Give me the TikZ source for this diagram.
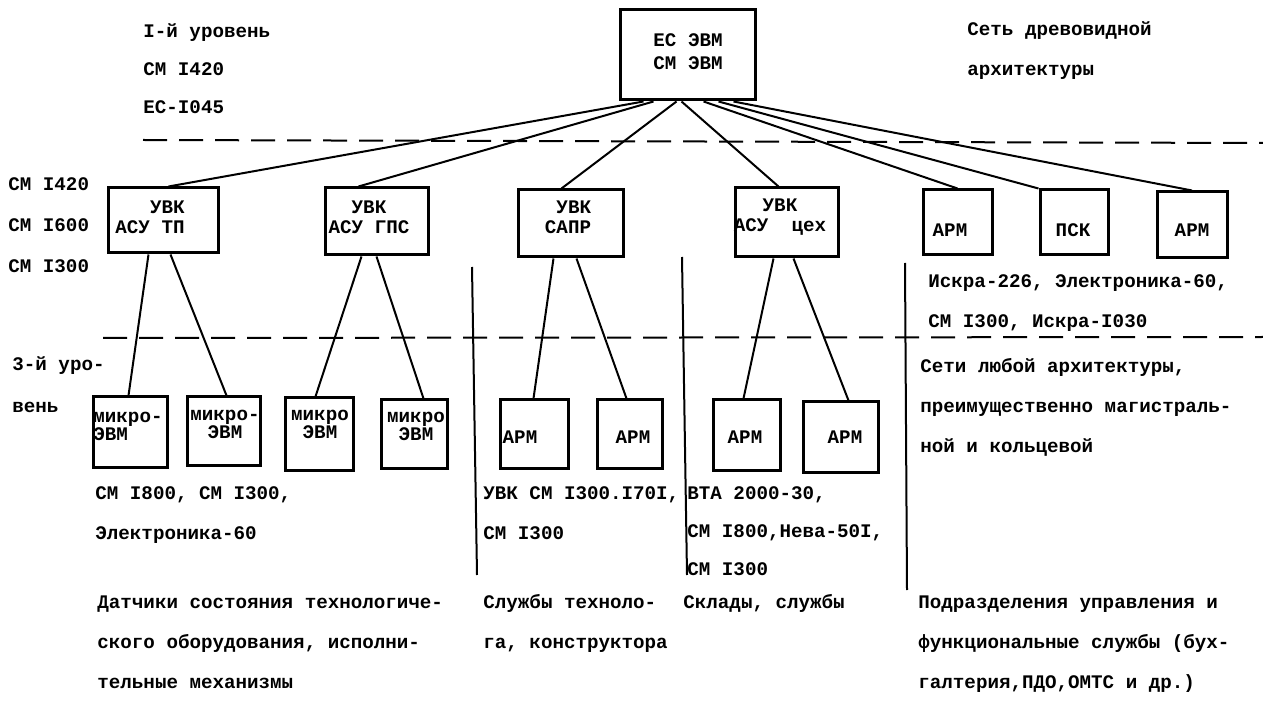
\documentclass[tikz,border=0pt]{standalone}
\usepackage{fontspec}
\newfontfamily\tw{Liberation Mono}
\usetikzlibrary{calc}
\tikzset{
  box/.style 2 args={draw, line width=1.5pt, inner sep=0pt, minimum width=#1*0.5pt, minimum height=#2*0.5pt},
  btxt/.style={font=\tw\bfseries\fontsize{9.6}{10}\selectfont, inner sep=0pt, align=center},
  mtxt/.style={font=\tw\bfseries\fontsize{9.6}{9}\selectfont, inner sep=0pt},
  txt/.style={font=\tw\bfseries\fontsize{9.6}{20}\selectfont, inner sep=0pt, align=left, anchor=base west},
  conn/.style={line width=1pt},
  sep/.style={line width=1pt, dash pattern=on 12pt off 6pt},
  vline/.style={line width=1pt}
}
\begin{document}
\begin{tikzpicture}[x=0.5pt,y=-0.5pt]
\useasboundingbox (0,0) rectangle (1263,705);

% top box
\node[box={135}{90}] (top) at (687.5,55) {};
\node[btxt, font=\tw\bfseries\fontsize{9.6}{11.5}\selectfont] (topt) at (688,52) {ЕС ЭВМ\\СМ ЭВМ};

% level 2 boxes
\node[box={110}{65}] (b1) at (163,220.5) {};
\node[box={103}{67}] (b2) at (376.5,221.5) {};
\node[box={105}{67}] (b3) at (570.5,223.5) {};
\node[box={103}{69}] (b4) at (786.5,222.5) {};
\node[box={69}{65}] (a1) at (957.5,222.5) {};
\node[box={68}{65}] (p) at (1074,222.5) {};
\node[box={70}{66}] (a2) at (1192,225) {};

\node[btxt, align=right] (b1t) at (150,217) {УВК\\АСУ ТП};
\node[btxt] (b2t) at (369,217) {УВК\\АСУ ГПС};
\node[btxt, align=right] (b3t) at (568,217) {УВК\\САПР};
\node[btxt] (b4t) at (780,217) {УВК\\АСУ~~цех};
\node[btxt] (a1t) at (950,230) {АРМ};
\node[btxt] (pt) at (1073,230) {ПСК};
\node[btxt] (a2t) at (1192,230) {АРМ};

% level 3 boxes
\node[box={74}{70}] (c1) at (130,432) {};
\node[box={73}{68}] (c2) at (223.5,431) {};
\node[box={68}{72}] (c3) at (319,434) {};
\node[box={66}{68}] (c4) at (414,434) {};
\node[box={68}{68}] (c5) at (534,434) {};
\node[box={65}{68}] (c6) at (629.5,434) {};
\node[box={67}{70}] (c7) at (746.5,435) {};
\node[box={75}{70}] (c8) at (840.5,437) {};

\node[mtxt, align=left] (c1t) at (128,426) {микро-\\ЭВМ};
\node[mtxt, align=center] (c2t) at (225,424) {микро-\\ЭВМ};
\node[mtxt, align=center] (c3t) at (320,424) {микро\\ЭВМ};
\node[mtxt, align=center] (c4t) at (416,426) {микро\\ЭВМ};
\node[btxt] (c5t) at (520,437) {АРМ};
\node[btxt] (c6t) at (633,437) {АРМ};
\node[btxt] (c7t) at (745,437) {АРМ};
\node[btxt] (c8t) at (845,437) {АРМ};

% dashed level separators
\coordinate (d1a) at (143,140);
\coordinate (d1b) at (1263,143);
\coordinate (d2a) at (103,338);
\coordinate (d2b) at (1263,337);
\draw[sep] (d1a) -- (d1b);
\draw[sep] (d2a) -- (d2b);

% vertical separators
\coordinate (v1a) at (472,267);
\coordinate (v1b) at (477,575);
\coordinate (v2a) at (682,257);
\coordinate (v2b) at (687,575);
\coordinate (v3a) at (905,263);
\coordinate (v3b) at (907,590);
\draw[vline] (v1a) -- (v1b);
\draw[vline] (v2a) -- (v2b);
\draw[vline] (v3a) -- (v3b);

% connectors top -> level 2
\draw[conn] ($(top.south west)+(25,0)$) -- ($(b1.north west)+(62,0)$);
\draw[conn] ($(top.south west)+(35,0)$) -- ($(b2.north west)+(35,0)$);
\draw[conn] ($(top.south west)+(58,0)$) -- ($(b3.north west)+(45,0)$);
\draw[conn] ($(top.south west)+(63,0)$) -- ($(b4.north west)+(45,0)$);
\draw[conn] ($(top.south west)+(85,0)$) -- (a1.north);
\draw[conn] ($(top.south west)+(100,0)$) -- (p.north west);
\draw[conn] ($(top.south west)+(115,0)$) -- (a2.north);

% connectors level 2 -> level 3
\draw[conn] ($(b1.south west)+(42,0)$) -- ($(c1.north west)+(37,0)$);
\draw[conn] ($(b1.south west)+(64,0)$) -- ($(c2.north west)+(41,0)$);
\draw[conn] ($(b2.south west)+(38,0)$) -- ($(c3.north west)+(32,0)$);
\draw[conn] ($(b2.south west)+(53,0)$) -- ($(c4.north west)+(44,0)$);
\draw[conn] ($(b3.south west)+(37,0)$) -- ($(c5.north west)+(35,0)$);
\draw[conn] ($(b3.south west)+(60,0)$) -- ($(c6.north west)+(31,0)$);
\draw[conn] ($(b4.south west)+(40,0)$) -- ($(c7.north west)+(32,0)$);
\draw[conn] ($(b4.south west)+(60,0)$) -- ($(c8.north west)+(47,0)$);

% text blocks (anchor = baseline of the LAST line)
\node[txt, font=\tw\bfseries\fontsize{9.6}{19}\selectfont] (tl) at (143,114) {I-й уровень\\СМ I420\\ЕС-I045};
\node[txt] (tr) at (967,76) {Сеть древовидной\\архитектуры};
\node[txt, font=\tw\bfseries\fontsize{9.6}{20.5}\selectfont] (l2) at (8,273) {СМ I420\\СМ I600\\СМ I300};
\node[txt] (iskra) at (928,328) {Искра-226, Электроника-60,\\СМ I300, Искра-I030};
\node[txt] (seti) at (920,452) {Сети любой архитектуры,\\преимущественно магистраль-\\ной и кольцевой};
\node[txt, font=\tw\bfseries\fontsize{9.6}{21}\selectfont] (l3) at (12,413) {3-й уро-\\вень};
\node[txt] (g1) at (95,539) {СМ I800, СМ I300,\\Электроника-60};
\node[txt] (g3) at (483,539) {УВК СМ I300.I70I,\\СМ I300};
\node[txt, font=\tw\bfseries\fontsize{9.6}{19}\selectfont] (g4) at (687,575) {ВТА 2000-30,\\СМ I800,Нева-50I,\\СМ I300};
\node[txt] (bt1) at (97,688) {Датчики состояния технологиче-\\ского оборудования, исполни-\\тельные механизмы};
\node[txt] (bt2) at (483,648) {Службы техноло-\\га, конструктора};
\node[txt] (bt3) at (683,608) {Склады, службы};
\node[txt] (bt4) at (918,688) {Подразделения управления и\\функциональные службы (бух-\\галтерия,ПДО,ОМТС и др.)};
\end{tikzpicture}
\end{document}
